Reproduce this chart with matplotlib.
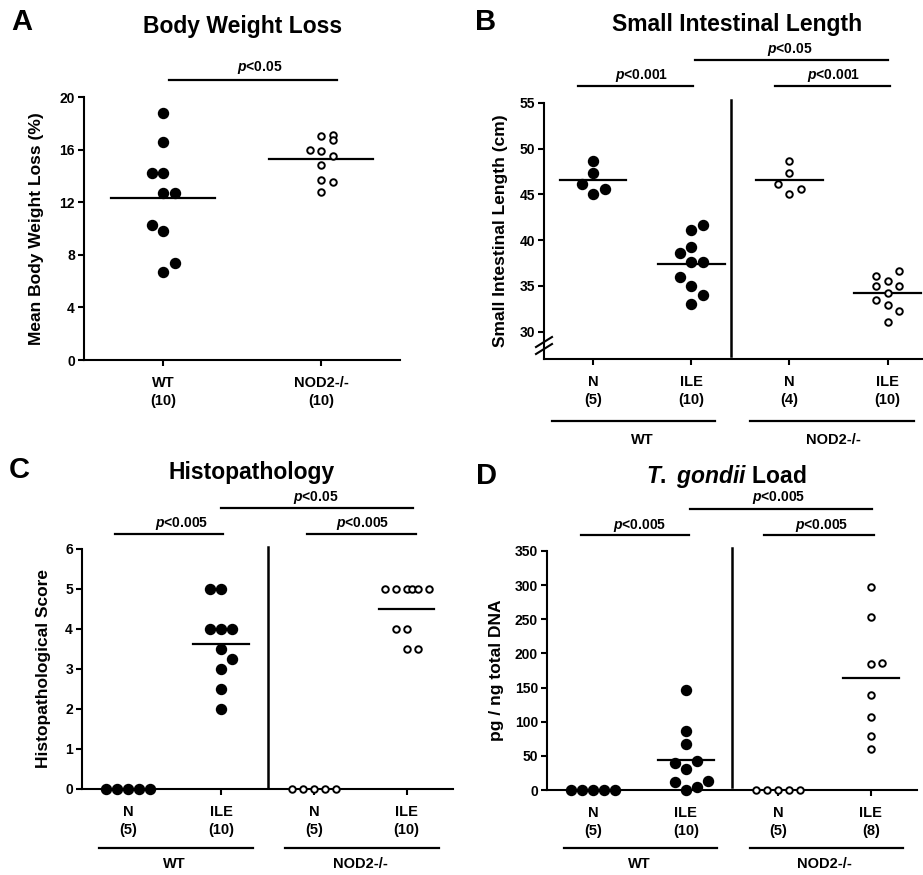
import numpy as np
import matplotlib
matplotlib.use('Agg')
import matplotlib.pyplot as plt
from matplotlib import transforms

plt.rcParams['font.family'] = ['Liberation Sans', 'DejaVu Sans']
plt.rcParams['font.weight'] = 'bold'
plt.rcParams['axes.labelweight'] = 'bold'
plt.rcParams['mathtext.fontset'] = 'custom'
plt.rcParams['mathtext.it'] = 'Liberation Sans:italic:bold'
plt.rcParams['mathtext.rm'] = 'Liberation Sans:bold'
plt.rcParams['mathtext.bf'] = 'Liberation Sans:bold'

# ---- data ----
# A: body weight loss (%)
bw_labels = ['WT\n(10)', 'NOD2-/-\n(10)']
bw_wt = [18.8, 16.6, 14.2, 14.2, 12.7, 12.7, 10.3, 9.8, 7.4, 6.7]
bw_ko = [17.0, 17.1, 16.7, 16.0, 15.9, 15.5, 14.8, 13.7, 13.5, 12.8]
bw_means = [12.35, 15.3]

# B: small intestinal length (cm)
sil_labels = ['N\n(5)', 'ILE\n(10)', 'N\n(4)', 'ILE\n(10)']
sil_wt_n = [48.7, 47.3, 46.1, 45.6, 45.0]
sil_wt_ile = [41.7, 41.1, 39.2, 38.6, 37.6, 37.6, 36.0, 35.0, 34.0, 33.0]
sil_ko_n = [48.7, 47.3, 46.1, 45.6, 45.0]
sil_ko_ile = [36.6, 36.1, 35.5, 35.0, 35.0, 34.2, 33.5, 32.9, 32.2, 31.0]
sil_means = [46.55, 37.38, 46.55, 34.2]

# C: histopathological score
his_labels = ['N\n(5)', 'ILE\n(10)', 'N\n(5)', 'ILE\n(10)']
his_wt_n = [0, 0, 0, 0, 0]
his_wt_ile = [5, 5, 4, 4, 4, 3.5, 3.25, 3, 2.5, 2]
his_ko_n = [0, 0, 0, 0, 0]
his_ko_ile = [5, 5, 5, 5, 5, 5, 4, 4, 3.5, 3.5]
his_means = [0, 3.625, 0, 4.5]

# D: T. gondii load (pg / ng total DNA)
tg_labels = ['N\n(5)', 'ILE\n(10)', 'N\n(5)', 'ILE\n(8)']
tg_wt_n = [0, 0, 0, 0, 0]
tg_wt_ile = [146, 86, 67, 42, 39, 31, 13, 11, 4, 0]
tg_ko_n = [0, 0, 0, 0, 0]
tg_ko_ile = [297, 254, 185, 186, 139, 107, 79, 60]
tg_means = [0, 43.9, 0, 163.4]

# horizontal scatter offsets (in marker steps), Prism style
bw_wt_dx = [0, 0, -1, 0, 0, 1, -1, 0, 1, 0]
bw_ko_dx = [0, 1, 1, -1, 0, 1, 0, 0, 1, 0]
sil_n_dx = [0, 0, -1, 1, 0]
sil_wt_ile_dx = [1, 0, 0, -1, 0, 1, -1, 0, 1, 0]
sil_ko_ile_dx = [1, -1, 0, -1, 1, 0, -1, 0, 1, 0]
zero_dx = [-2, -1, 0, 1, 2]
his_wt_ile_dx = [-1, 0, -1, 0, 1, 0, 1, 0, 0, 0]
his_ko_ile_dx = [-2, -1, 0, 0.45, 1, 2, -1, 0, 0, 1]
tg_wt_ile_dx = [0, 0, 0, 1, -1, 0, 2, -1, 1, 0]
tg_ko_ile_dx = [0, 0, 0, 1, 0, 0, 0, 0]

W, H = 923, 875
fig = plt.figure(figsize=(W / 100, H / 100), dpi=100)


def add_ax(left, top, right, bottom):
    ax = fig.add_axes([left / W, 1 - bottom / H, (right - left) / W, (bottom - top) / H])
    for s in ['top', 'right']:
        ax.spines[s].set_visible(False)
    for s in ['left', 'bottom']:
        ax.spines[s].set_linewidth(1.5)
    ax.tick_params(direction='out', length=4.5, width=1.5, labelsize=10, pad=2)
    ax.tick_params(axis='x', pad=7, labelsize=10.5)
    return ax


def dots(ax, x, vals, dx, step, filled=True):
    xs = x + np.array(dx) * step
    if filled:
        ax.plot(xs, vals, 'o', ms=7.2, color='black', clip_on=False, zorder=5)
    else:
        ax.plot(xs, vals, 'o', ms=4.7, mfc='white', mec='black', mew=1.4, clip_on=False, zorder=5)


def mean_line(ax, x, m, hw):
    ax.plot([x - hw, x + hw], [m, m], color='black', lw=1.6, zorder=4, clip_on=False)


def pbar(ax, x0, x1, ybar, xt, ytxt, label):
    tr = transforms.blended_transform_factory(ax.transData, fig.transFigure)
    ax.plot([x0, x1], [1 - ybar / H] * 2, transform=tr, color='black', lw=1.6, clip_on=False)
    ax.text(xt, 1 - ytxt / H, label, transform=tr, ha='center', va='center', fontsize=10)


def groups(ax, yline, ytxt):
    tr = transforms.blended_transform_factory(ax.transData, fig.transFigure)
    for x0, x1, xt, lab in [(-0.32, 1.34, 0.5, 'WT'), (1.69, 3.35, 2.5, 'NOD2-/-')]:
        ax.plot([x0, x1], [1 - yline / H] * 2, transform=tr, color='black', lw=1.6, clip_on=False)
        ax.text(xt, 1 - ytxt / H, lab, transform=tr, ha='center', va='center', fontsize=10.5)


def separator(ax, x, ytop, ybot):
    tr = transforms.blended_transform_factory(ax.transData, fig.transFigure)
    ax.plot([x, x], [1 - ytop / H, 1 - ybot / H], transform=tr, color='black', lw=1.8, clip_on=False)


def xlabels(ax, labels):
    ax.set_xticks(range(len(labels)))
    ax.set_xticklabels(labels, linespacing=1.4)


# ---- panel A ----
ax = add_ax(84, 97, 400, 360)
ax.set_xlim(-0.5, 1.5)
ax.set_ylim(0, 20)
ax.set_yticks([0, 4, 8, 12, 16, 20])
ax.set_xticks([0, 1])
ax.set_xticklabels(bw_labels, linespacing=1.4)
st = 11.5 / 158
dots(ax, 0, bw_wt, bw_wt_dx, st, True)
dots(ax, 1, bw_ko, bw_ko_dx, st, False)
for i, m in enumerate(bw_means):
    mean_line(ax, i, m, 0.33)
ax.set_ylabel('Mean Body Weight Loss (%)', fontsize=12.5)
ax.yaxis.set_label_coords((44 - 84) / 316, 0.5)
pbar(ax, 0.04, 1.1, 80, 0.61, 67, r'$\it{p}$<0.05')

# ---- panel B ----
ax = add_ax(544, 103, 922, 359)
ax.set_xlim(-0.5, 3.35)
ax.set_ylim(27, 55)
ax.set_yticks([30, 35, 40, 45, 50, 55])
xlabels(ax, sil_labels)
st = 11.5 / 98.3
dots(ax, 0, sil_wt_n, sil_n_dx, st, True)
dots(ax, 1, sil_wt_ile, sil_wt_ile_dx, st, True)
dots(ax, 2, sil_ko_n, sil_n_dx, st, False)
dots(ax, 3, sil_ko_ile, sil_ko_ile_dx, st, False)
for i, m in enumerate(sil_means):
    mean_line(ax, i, m, 0.34)
ax.set_ylabel('Small Intestinal Length (cm)', fontsize=12.5)
ax.yaxis.set_label_coords((508 - 544) / 378, 0.5)
separator(ax, 1.4, 100, 356)
pbar(ax, -0.15, 1.02, 86, 0.49, 75, r'$\it{p}$<0.001')
pbar(ax, 1.85, 3.02, 86, 2.45, 75, r'$\it{p}$<0.001')
pbar(ax, 1.04, 3.0, 60, 2.0, 49, r'$\it{p}$<0.05')
tr = transforms.blended_transform_factory(ax.transData, fig.transFigure)
for x0, x1, xt, lab in [(-0.42, 1.24, 0.5, 'WT'), (1.6, 3.27, 2.45, 'NOD2-/-')]:
    ax.plot([x0, x1], [1 - 421 / H] * 2, transform=tr, color='black', lw=1.6, clip_on=False)
    ax.text(xt, 1 - 440 / H, lab, transform=tr, ha='center', va='center', fontsize=10.5)
# axis break mark
for yb in (349, 342):
    fig.add_artist(plt.Line2D([536 / W, 552 / W], [1 - (yb + 5) / H, 1 - (yb - 5) / H],
                              color='black', lw=1.5))

# ---- panel C ----
ax = add_ax(82, 549, 453, 789)
ax.set_xlim(-0.5, 3.5)
ax.set_ylim(0, 6)
ax.set_yticks(range(7))
xlabels(ax, his_labels)
st = 11 / 92.7
dots(ax, 0, his_wt_n, zero_dx, st, True)
dots(ax, 1, his_wt_ile, his_wt_ile_dx, st, True)
dots(ax, 2, his_ko_n, zero_dx, st, False)
dots(ax, 3, his_ko_ile, his_ko_ile_dx, st, False)
for i in (1, 3):
    mean_line(ax, i, his_means[i], 0.3)
ax.set_ylabel('Histopathological Score', fontsize=12.5)
ax.yaxis.set_label_coords((51 - 82) / 371, 0.5)
separator(ax, 1.5, 547, 787)
pbar(ax, -0.14, 1.02, 534, 0.57, 523, r'$\it{p}$<0.005')
pbar(ax, 1.93, 3.1, 534, 2.53, 523, r'$\it{p}$<0.005')
pbar(ax, 1.0, 3.07, 508, 2.02, 498, r'$\it{p}$<0.05')
groups(ax, 848, 864)

# ---- panel D ----
ax = add_ax(547, 551, 917, 790)
ax.set_xlim(-0.5, 3.5)
ax.set_ylim(0, 350)
ax.set_yticks(range(0, 351, 50))
xlabels(ax, tg_labels)
st = 11 / 92.4
dots(ax, 0, tg_wt_n, zero_dx, st, True)
dots(ax, 1, tg_wt_ile, tg_wt_ile_dx, st, True)
dots(ax, 2, tg_ko_n, zero_dx, st, False)
dots(ax, 3, tg_ko_ile, tg_ko_ile_dx, st, False)
for i in (1, 3):
    mean_line(ax, i, tg_means[i], 0.3)
ax.set_ylabel('pg / ng total DNA', fontsize=12.5)
ax.yaxis.set_label_coords((504 - 547) / 370, 0.5)
separator(ax, 1.5, 548, 787)
pbar(ax, -0.13, 1.03, 535, 0.5, 525, r'$\it{p}$<0.005')
pbar(ax, 1.85, 3.03, 535, 2.47, 525, r'$\it{p}$<0.005')
pbar(ax, 1.05, 3.01, 509, 2.0, 498, r'$\it{p}$<0.005')
groups(ax, 848, 864)

# ---- titles and panel letters ----
fig.text(243 / W, 1 - 26 / H, 'Body Weight Loss', ha='center', va='center', fontsize=16.5)
fig.text(737 / W, 1 - 25 / H, 'Small Intestinal Length', ha='center', va='center', fontsize=16.5)
fig.text(252 / W, 1 - 472 / H, 'Histopathology', ha='center', va='center', fontsize=16.5)
fig.text(726 / W, 1 - 477 / H, r'$\it{T.}$ $\it{gondii}$ Load', ha='center', va='center', fontsize=16.5)
for lab, x, y in [('A', 11, 22), ('B', 475, 22), ('C', 9, 470), ('D', 476, 476)]:
    fig.text(x / W, 1 - y / H, lab, ha='left', va='center', fontsize=21)

fig.savefig('out.png', dpi=100)
